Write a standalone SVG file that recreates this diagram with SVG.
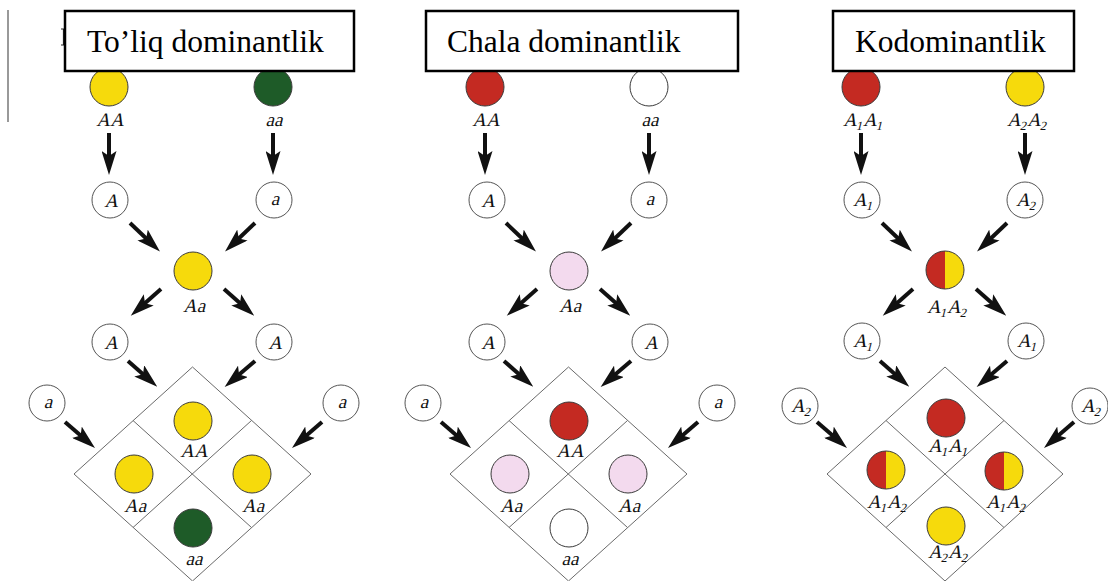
<svg xmlns="http://www.w3.org/2000/svg" width="1108" height="581" viewBox="0 0 1108 581">
<style>
.bg{fill:#ffffff}
.ph{stroke:#3a3a3a;stroke-width:1}
.yel{fill:#f6da0c}
.grn{fill:#1e5b28}
.red{fill:#c42a22}
.pnk{fill:#f3daee}
.wht{fill:#ffffff}
.gam{fill:#ffffff;stroke:#555555;stroke-width:1}
.lbl{font-family:"Liberation Serif","Times New Roman",serif;font-size:19px;fill:#111111;text-anchor:middle}
.sub{font-size:12.5px}
.sq{fill:none;stroke:#6a6a6a;stroke-width:1}
.arr{stroke:#111111;stroke-width:4;fill:none;marker-end:url(#ah)}
.tbox{fill:#ffffff;stroke:#000000;stroke-width:2.5}
.ttl{font-family:"Liberation Serif","Times New Roman",serif;font-size:31.5px;fill:#000000}
</style>
<defs>
<marker id="ah" viewBox="0 0 24 15" markerWidth="24" markerHeight="15" refX="13" refY="7.5" orient="auto" markerUnits="userSpaceOnUse">
<path d="M0,0 L24,7.5 L0,15 L5,7.5 Z" fill="#111111"/>
</marker>
</defs>
<rect class="bg" x="0" y="0" width="1108" height="581"/>
<line x1="8" y1="10" x2="8" y2="122" stroke="#555555" stroke-width="1.2"/>
<path d="M61,29 L63.5,29 L63.5,45 L61,45" fill="none" stroke="#222222" stroke-width="1.2"/>

<!-- Panel 1 -->
<g id="panel1">
<g id="p1-connectors">
<line class="arr" x1="109" y1="133" x2="109" y2="164"/>
<line class="arr" x1="273" y1="133" x2="273" y2="164"/>
<line class="arr" x1="130" y1="223" x2="152" y2="244"/>
<line class="arr" x1="255" y1="223" x2="233" y2="244"/>
<line class="arr" x1="161" y1="289" x2="139" y2="308.5"/>
<line class="arr" x1="224" y1="289" x2="246" y2="308.5"/>
<line class="arr" x1="128" y1="361" x2="149" y2="379.5"/>
<line class="arr" x1="255" y1="361" x2="233" y2="379.8"/>
<line class="arr" x1="65" y1="422" x2="86.7" y2="440.8"/>
<line class="arr" x1="322" y1="422" x2="300.3" y2="440.8"/>
</g>
<g id="p1-grid"><polygon class="sq" points="192.5,367 311,474 192.5,581 74,474"/><line class="sq" x1="133" y1="420.5" x2="251.5" y2="527.5"/><line class="sq" x1="251.5" y1="420.5" x2="133" y2="527.5"/></g>
<g id="p1-P1"><circle class="ph yel" cx="109" cy="87" r="19"/><text class="lbl" transform="translate(110,126) skewX(-14)">AA</text></g>
<g id="p1-P2"><circle class="ph grn" cx="273" cy="87" r="19"/><text class="lbl" transform="translate(274,126) skewX(-14)">aa</text></g>
<g id="p1-g1"><circle class="gam" cx="110" cy="200" r="18"/><text class="lbl" transform="translate(111,207) skewX(-14)">A</text></g>
<g id="p1-g2"><circle class="gam" cx="274" cy="200" r="18"/><text class="lbl" transform="translate(275,205) skewX(-14)">a</text></g>
<g id="p1-F1"><circle class="ph yel" cx="193" cy="271" r="19"/><text class="lbl" transform="translate(194,312) skewX(-14)">Aa</text></g>
<g id="p1-g3"><circle class="gam" cx="110" cy="342" r="18"/><text class="lbl" transform="translate(111,349) skewX(-14)">A</text></g>
<g id="p1-g4"><circle class="gam" cx="274" cy="342" r="18"/><text class="lbl" transform="translate(275,349) skewX(-14)">A</text></g>
<g id="p1-g5"><circle class="gam" cx="47" cy="403" r="18"/><text class="lbl" transform="translate(48,408) skewX(-14)">a</text></g>
<g id="p1-g6"><circle class="gam" cx="341" cy="403" r="18"/><text class="lbl" transform="translate(342,408) skewX(-14)">a</text></g>
<g id="p1-c1"><circle class="ph yel" cx="193" cy="421" r="19"/><text class="lbl" transform="translate(194,457) skewX(-14)">AA</text></g>
<g id="p1-c2"><circle class="ph yel" cx="134" cy="474" r="19"/><text class="lbl" transform="translate(135,512) skewX(-14)">Aa</text></g>
<g id="p1-c3"><circle class="ph yel" cx="252" cy="474" r="19"/><text class="lbl" transform="translate(253,512) skewX(-14)">Aa</text></g>
<g id="p1-c4"><circle class="ph grn" cx="193" cy="528" r="19"/><text class="lbl" transform="translate(194,565) skewX(-14)">aa</text></g>
<g id="p1-title"><rect class="tbox" x="65" y="11" width="289" height="60"/><text class="ttl" x="87" y="52">To’liq dominantlik</text></g>
</g>

<!-- Panel 2 -->
<g id="panel2" transform="translate(376,0)">
<g id="p2-connectors">
<line class="arr" x1="109" y1="133" x2="109" y2="164"/>
<line class="arr" x1="273" y1="133" x2="273" y2="164"/>
<line class="arr" x1="130" y1="223" x2="152" y2="244"/>
<line class="arr" x1="255" y1="223" x2="233" y2="244"/>
<line class="arr" x1="161" y1="289" x2="139" y2="308.5"/>
<line class="arr" x1="224" y1="289" x2="246" y2="308.5"/>
<line class="arr" x1="128" y1="361" x2="149" y2="379.5"/>
<line class="arr" x1="255" y1="361" x2="233" y2="379.8"/>
<line class="arr" x1="65" y1="422" x2="86.7" y2="440.8"/>
<line class="arr" x1="322" y1="422" x2="300.3" y2="440.8"/>
</g>
<g id="p2-grid"><polygon class="sq" points="192.5,367 311,474 192.5,581 74,474"/><line class="sq" x1="133" y1="420.5" x2="251.5" y2="527.5"/><line class="sq" x1="251.5" y1="420.5" x2="133" y2="527.5"/></g>
<g id="p2-P1"><circle class="ph red" cx="109" cy="87" r="19"/><text class="lbl" transform="translate(110,126) skewX(-14)">AA</text></g>
<g id="p2-P2"><circle class="ph wht" cx="273" cy="87" r="19"/><text class="lbl" transform="translate(274,126) skewX(-14)">aa</text></g>
<g id="p2-g1"><circle class="gam" cx="111" cy="200" r="18"/><text class="lbl" transform="translate(112,207) skewX(-14)">A</text></g>
<g id="p2-g2"><circle class="gam" cx="273" cy="200" r="18"/><text class="lbl" transform="translate(274,205) skewX(-14)">a</text></g>
<g id="p2-F1"><circle class="ph pnk" cx="193" cy="271" r="19"/><text class="lbl" transform="translate(194,312) skewX(-14)">Aa</text></g>
<g id="p2-g3"><circle class="gam" cx="111" cy="342" r="18"/><text class="lbl" transform="translate(112,349) skewX(-14)">A</text></g>
<g id="p2-g4"><circle class="gam" cx="274" cy="342" r="18"/><text class="lbl" transform="translate(275,349) skewX(-14)">A</text></g>
<g id="p2-g5"><circle class="gam" cx="47" cy="403" r="18"/><text class="lbl" transform="translate(48,408) skewX(-14)">a</text></g>
<g id="p2-g6"><circle class="gam" cx="341" cy="403" r="18"/><text class="lbl" transform="translate(342,408) skewX(-14)">a</text></g>
<g id="p2-c1"><circle class="ph red" cx="193" cy="421" r="19"/><text class="lbl" transform="translate(194,457) skewX(-14)">AA</text></g>
<g id="p2-c2"><circle class="ph pnk" cx="134" cy="474" r="19"/><text class="lbl" transform="translate(135,512) skewX(-14)">Aa</text></g>
<g id="p2-c3"><circle class="ph pnk" cx="252" cy="474" r="19"/><text class="lbl" transform="translate(253,512) skewX(-14)">Aa</text></g>
<g id="p2-c4"><circle class="ph wht" cx="193" cy="528" r="19"/><text class="lbl" transform="translate(194,565) skewX(-14)">aa</text></g>
<g id="p2-title"><rect class="tbox" x="50" y="11" width="312" height="60"/><text class="ttl" x="71" y="52">Chala dominantlik</text></g>
</g>

<!-- Panel 3 -->
<g id="panel3" transform="translate(752,0)">
<g id="p3-connectors">
<line class="arr" x1="109" y1="133" x2="109" y2="164"/>
<line class="arr" x1="273" y1="133" x2="273" y2="164"/>
<line class="arr" x1="130" y1="223" x2="152" y2="244"/>
<line class="arr" x1="255" y1="223" x2="233" y2="244"/>
<line class="arr" x1="161" y1="289" x2="139" y2="308.5"/>
<line class="arr" x1="224" y1="289" x2="246" y2="308.5"/>
<line class="arr" x1="128" y1="361" x2="149" y2="379.5"/>
<line class="arr" x1="255" y1="361" x2="233" y2="379.8"/>
<line class="arr" x1="65" y1="422" x2="86.7" y2="440.8"/>
<line class="arr" x1="322" y1="422" x2="300.3" y2="440.8"/>
</g>
<g id="p3-grid"><polygon class="sq" points="193,367 311,474 193,581 75,474"/><line class="sq" x1="134" y1="420.5" x2="252" y2="527.5"/><line class="sq" x1="252" y1="420.5" x2="134" y2="527.5"/></g>
<g id="p3-P1"><circle class="ph red" cx="109" cy="87" r="19"/><text class="lbl" transform="translate(111,126) skewX(-14)">A<tspan class="sub" dy="4">1</tspan><tspan dy="-4">A</tspan><tspan class="sub" dy="4">1</tspan></text></g>
<g id="p3-P2"><circle class="ph yel" cx="273" cy="87" r="19"/><text class="lbl" transform="translate(275,126) skewX(-14)">A<tspan class="sub" dy="4">2</tspan><tspan dy="-4">A</tspan><tspan class="sub" dy="4">2</tspan></text></g>
<g id="p3-g1"><circle class="gam" cx="110" cy="200" r="18"/><text class="lbl" transform="translate(111,206) skewX(-14)">A<tspan class="sub" dy="4">1</tspan></text></g>
<g id="p3-g2"><circle class="gam" cx="273" cy="200" r="18"/><text class="lbl" transform="translate(274,206) skewX(-14)">A<tspan class="sub" dy="4">2</tspan></text></g>
<g id="p3-F1"><path class="red" d="M193,251 A19,19 0 0 0 193,289 Z"/><path class="yel" d="M193,251 A19,19 0 0 1 193,289 Z"/><circle cx="193" cy="270" r="19" fill="none" stroke="#3a3a3a" stroke-width="1"/><text class="lbl" transform="translate(195,313) skewX(-14)">A<tspan class="sub" dy="4">1</tspan><tspan dy="-4">A</tspan><tspan class="sub" dy="4">2</tspan></text></g>
<g id="p3-g3"><circle class="gam" cx="110" cy="341" r="18"/><text class="lbl" transform="translate(111,347) skewX(-14)">A<tspan class="sub" dy="4">1</tspan></text></g>
<g id="p3-g4"><circle class="gam" cx="274" cy="341" r="18"/><text class="lbl" transform="translate(275,347) skewX(-14)">A<tspan class="sub" dy="4">1</tspan></text></g>
<g id="p3-g5"><circle class="gam" cx="48" cy="406" r="18"/><text class="lbl" transform="translate(49,412) skewX(-14)">A<tspan class="sub" dy="4">2</tspan></text></g>
<g id="p3-g6"><circle class="gam" cx="338" cy="406" r="18"/><text class="lbl" transform="translate(339,412) skewX(-14)">A<tspan class="sub" dy="4">2</tspan></text></g>
<g id="p3-c1"><circle class="ph red" cx="194" cy="418" r="19"/><text class="lbl" transform="translate(196,452) skewX(-14)">A<tspan class="sub" dy="4">1</tspan><tspan dy="-4">A</tspan><tspan class="sub" dy="4">1</tspan></text></g>
<g id="p3-c2"><path class="red" d="M134,451 A19,19 0 0 0 134,489 Z"/><path class="yel" d="M134,451 A19,19 0 0 1 134,489 Z"/><circle cx="134" cy="470" r="19" fill="none" stroke="#3a3a3a" stroke-width="1"/><text class="lbl" transform="translate(135,508) skewX(-14)">A<tspan class="sub" dy="4">1</tspan><tspan dy="-4">A</tspan><tspan class="sub" dy="4">2</tspan></text></g>
<g id="p3-c3"><path class="red" d="M252,452 A19,19 0 0 0 252,490 Z"/><path class="yel" d="M252,452 A19,19 0 0 1 252,490 Z"/><circle cx="252" cy="471" r="19" fill="none" stroke="#3a3a3a" stroke-width="1"/><text class="lbl" transform="translate(254,508) skewX(-14)">A<tspan class="sub" dy="4">1</tspan><tspan dy="-4">A</tspan><tspan class="sub" dy="4">2</tspan></text></g>
<g id="p3-c4"><circle class="ph yel" cx="194" cy="526" r="19"/><text class="lbl" transform="translate(196,558) skewX(-14)">A<tspan class="sub" dy="4">2</tspan><tspan dy="-4">A</tspan><tspan class="sub" dy="4">2</tspan></text></g>
<g id="p3-title"><rect class="tbox" x="81" y="11" width="241" height="60"/><text class="ttl" x="103" y="52">Kodominantlik</text></g>
</g>
</svg>
